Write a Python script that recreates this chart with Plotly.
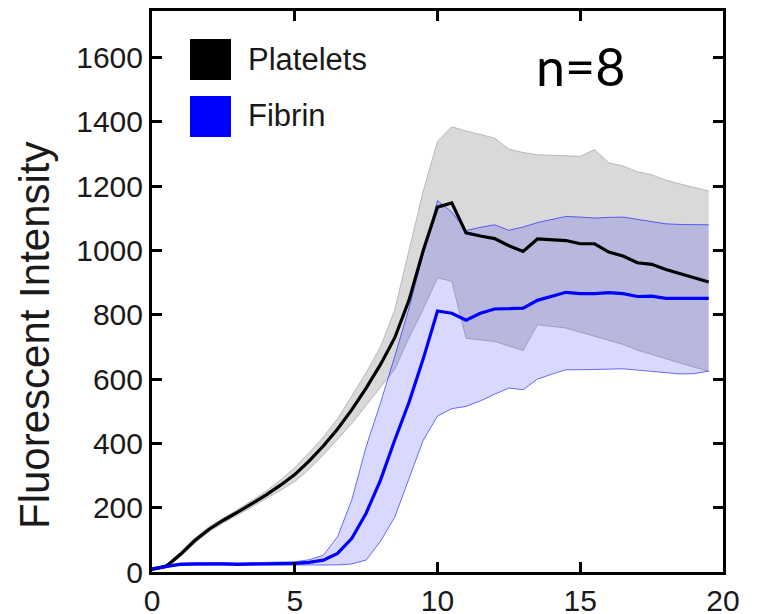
import plotly.graph_objects as go

# ---- data ----
time_min = [0, 0.5, 1, 1.5, 2, 2.5, 3, 3.5, 4, 4.5, 5, 5.5, 6, 6.5, 7, 7.5, 8, 8.5, 9, 9.5,
            10, 10.5, 11, 11.5, 12, 12.5, 13, 13.5, 14, 14.5, 15, 15.5, 16, 16.5, 17, 17.5, 18, 18.5, 19, 19.5]

platelets_mean = [8, 18, 55, 98, 133, 161, 186, 212, 240, 270, 303, 345, 392, 445, 505, 572, 645, 728, 845, 1000,
                  1135, 1148, 1055, 1045, 1037, 1015, 997, 1036, 1034, 1031, 1021, 1021, 995, 983, 962, 957, 941, 928, 915, 902]
platelets_upper = [12, 23, 62, 106, 141, 169, 195, 222, 252, 286, 325, 371, 420, 477, 548, 620, 700, 815, 1000, 1185,
                   1340, 1385, 1372, 1361, 1350, 1315, 1305, 1298, 1296, 1295, 1293, 1314, 1273, 1263, 1245, 1236, 1219, 1207, 1195, 1185]
platelets_lower = [4, 13, 48, 90, 125, 153, 177, 202, 228, 254, 281, 319, 364, 412, 462, 518, 575, 630, 728, 818,
                   915, 904, 727, 722, 717, 703, 689, 769, 764, 759, 746, 733, 720, 708, 690, 676, 663, 650, 637, 624]

fibrin_mean = [10, 18, 24, 25, 26, 25, 24, 25, 26, 25, 27, 30, 37, 58, 105, 183, 285, 410, 527, 663,
               812, 805, 783, 805, 818, 819, 821, 845, 858, 870, 866, 866, 869, 866, 857, 858, 851, 851, 851, 851]
fibrin_upper = [12, 22, 28, 29, 30, 29, 28, 29, 30, 30, 32, 38, 52, 110, 225, 390, 525, 670, 820, 990,
                1155, 1120, 1062, 1072, 1080, 1063, 1073, 1087, 1097, 1106, 1104, 1101, 1103, 1104, 1097, 1090, 1083, 1081, 1080, 1080]
fibrin_lower = [8, 15, 20, 21, 21, 20, 20, 20, 21, 21, 22, 22, 22, 22, 25, 37, 95, 170, 290, 410,
                485, 508, 515, 532, 553, 572, 567, 600, 615, 629, 629, 629, 631, 632, 628, 624, 620, 616, 617, 625]

x_ticks = [0, 5, 10, 15, 20]
y_ticks = [0, 200, 400, 600, 800, 1000, 1200, 1400, 1600]
series_names = ["Platelets", "Fibrin"]
y_title = "Fluorescent Intensity"
n_label = "n=8"

# ---- figure ----
W, H = 758, 614
L, R, T, B = 152, 35, 11, 42
PW, PH = W - L - R, H - T - B
X_RANGE = [0, 20]
Y_RANGE = [0, 1745]


def pxx(x):
    return (x - L) / PW


def pxy(y):
    return (H - B - y) / PH


FONT = "Liberation Sans, Arial, sans-serif"
GRAY_FILL = "rgb(217,217,217)"
BLUE_FILL = "rgba(0,0,255,0.15)"

fig = go.Figure()
fig.add_trace(go.Scatter(x=time_min, y=platelets_lower, mode="lines",
                         line=dict(color="rgb(165,165,165)", width=0.7), showlegend=False, hoverinfo="skip"))
fig.add_trace(go.Scatter(x=time_min, y=platelets_upper, mode="lines", fill="tonexty", fillcolor=GRAY_FILL,
                         line=dict(color="rgb(165,165,165)", width=0.7), showlegend=False, hoverinfo="skip"))
fig.add_trace(go.Scatter(x=time_min, y=fibrin_lower, mode="lines",
                         line=dict(color="rgba(0,0,255,0.7)", width=0.8), showlegend=False, hoverinfo="skip"))
fig.add_trace(go.Scatter(x=time_min, y=fibrin_upper, mode="lines", fill="tonexty", fillcolor=BLUE_FILL,
                         line=dict(color="rgba(0,0,255,0.7)", width=0.8), showlegend=False, hoverinfo="skip"))
fig.add_trace(go.Scatter(x=time_min, y=platelets_mean, mode="lines", name=series_names[0],
                         line=dict(color="black", width=3.2), showlegend=False))
fig.add_trace(go.Scatter(x=time_min, y=fibrin_mean, mode="lines", name=series_names[1],
                         line=dict(color="rgb(0,0,255)", width=3.2), showlegend=False))

axis_common = dict(showline=True, linecolor="black", linewidth=3, mirror="ticks",
                   ticks="inside", ticklen=10, tickwidth=3, tickcolor="black",
                   showgrid=False, zeroline=False, automargin=False,
                   tickfont=dict(family=FONT, size=30, color="#1a1a1a"))
fig.update_xaxes(range=X_RANGE, tickvals=x_ticks, ticktext=[str(v) for v in x_ticks], **axis_common)
fig.update_yaxes(range=Y_RANGE, tickvals=y_ticks, ticktext=[str(v) for v in y_ticks], **axis_common)

# legend squares and labels
colors = ["black", "rgb(0,0,255)"]
box_tops = [39, 96]
for name, col, top in zip(series_names, colors, box_tops):
    fig.add_shape(type="rect", xref="paper", yref="paper",
                  x0=pxx(190), x1=pxx(231), y0=pxy(top + 41), y1=pxy(top),
                  fillcolor=col, line=dict(width=0))
    fig.add_annotation(text=name, xref="paper", yref="paper", x=pxx(246), y=pxy(top + 20),
                       xanchor="left", yanchor="middle", showarrow=False,
                       font=dict(family=FONT, size=31, color="#1a1a1a"))

fig.add_annotation(text=n_label, xref="paper", yref="paper", x=pxx(580), y=pxy(66),
                   xanchor="center", yanchor="middle", showarrow=False,
                   font=dict(family="Lato, Carlito, sans-serif", size=52, color="black"))

fig.add_annotation(text=y_title, xref="paper", yref="paper", x=pxx(34), y=pxy(335),
                   xanchor="center", yanchor="middle", textangle=-90, showarrow=False,
                   font=dict(family=FONT, size=42, color="#1a1a1a"))

fig.update_layout(width=W, height=H, margin=dict(l=L, r=R, t=T, b=B),
                  paper_bgcolor="white", plot_bgcolor="white", showlegend=False)

fig.write_html("out.html")
